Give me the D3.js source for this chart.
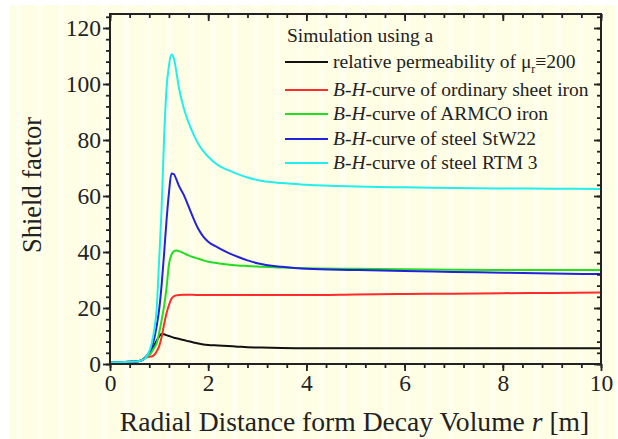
<!DOCTYPE html>
<html><head><meta charset="utf-8">
<script src="https://cdn.jsdelivr.net/npm/d3@7"></script>
<style>body{margin:0;background:#fff}svg{display:block}</style>
</head><body>
<svg id="c" width="618" height="439" style="font-family:'Liberation Serif'"></svg>
<script>
const rValues = [0,0.3,0.5,0.6,0.65,0.7,0.75,0.8,0.85,0.9,0.95,1.0,1.05,1.1,1.15,1.2,1.25,1.3,1.35,1.4,1.5,1.6,1.7,1.8,1.9,2.0,2.2,2.4,2.6,2.8,3.0,3.5,4,5,6,7,8,9,10];
const muConst  = [0.6,0.7,0.9,1.1,1.4,2.0,2.8,3.6,5.0,6.6,8.3,9.8,10.7,10.6,10.3,10.0,9.7,9.4,9.2,9.0,8.6,8.1,7.7,7.3,7.0,6.8,6.6,6.4,6.2,6.0,5.9,5.7,5.6,5.6,5.6,5.6,5.6,5.6,5.6];
const sheetIron= [0.6,0.7,0.9,1.1,1.4,1.9,2.4,2.6,2.7,3.2,4.5,6.3,9.5,14,18,21,23.2,24.2,24.5,24.6,24.7,24.7,24.7,24.6,24.6,24.6,24.6,24.6,24.6,24.6,24.6,24.6,24.6,24.8,25.0,25.1,25.3,25.4,25.5];
const armco    = [0.6,0.7,0.9,1.1,1.4,1.8,2.5,3.3,4.3,5.8,7.4,11,15.5,20.5,27,35.5,39,40.2,40.5,40.3,39.6,38.8,38.1,37.6,37.0,36.5,36.0,35.5,35.2,35.0,34.8,34.5,34.2,34.0,33.8,33.7,33.6,33.6,33.6];
const stw22    = [0.6,0.7,0.9,1.1,1.3,2.0,3.0,4.3,6.0,9.0,13.5,19.3,28,39,51,61,68,67.8,66,63.8,60.5,56.3,52,48.2,45.5,43.7,41.6,39.8,38.3,37.0,36.0,34.7,34.0,33.6,33.2,32.9,32.6,32.3,32.1];
const rtm3     = [0.6,0.7,0.9,1.1,1.4,1.8,2.8,4.5,7.4,12,19.5,37,55,80,98,106.5,110.5,109.2,104.5,99,91.5,86.3,82,78.6,76,74,71,69.3,67.8,66.6,65.7,64.6,64,63.4,63.1,62.9,62.7,62.6,62.5];

const xTicks = [0,2,4,6,8,10];
const yTicks = [0,20,40,60,80,100,120];

const series = [
  {vals: muConst,   color:"#111111"},
  {vals: sheetIron, color:"#ff2a2a"},
  {vals: armco,     color:"#22dd22"},
  {vals: stw22,     color:"#2222dd"},
  {vals: rtm3,      color:"#22eeee"}
];

const FF = "'Liberation Serif'";
const svg = d3.select("#c");
const L=110,R=601,T=14,B=364;
const x = d3.scaleLinear().domain([0,10]).range([L,R]);
const y = d3.scaleLinear().domain([0,125]).range([B,T]);

svg.append("rect").attr("x",10).attr("y",5).attr("width",605).attr("height",434).attr("fill","#fefee4");
for(let sx=16; sx<615; sx+=21.6){
  svg.append("rect").attr("x",sx).attr("y",5).attr("width",5).attr("height",434).attr("fill","#ffffef");
}

const g = svg.append("g");
const line = d3.line().x((d,i)=>x(rValues[i])).y(d=>y(d)).curve(d3.curveMonotoneX);
series.forEach(s=>{
  g.append("path").attr("d",line(s.vals)).attr("fill","none").attr("stroke",s.color).attr("stroke-width",2).attr("stroke-linejoin","round");
});

const ac="#222";
const xMinor = d3.range(0,10.001,0.4);
const yMinor = d3.range(0,125.001,4);
const bot = svg.append("g").attr("transform",`translate(0,${B})`).call(d3.axisBottom(x).tickValues(xMinor).tickSize(4).tickFormat(""));
const bot2 = svg.append("g").attr("transform",`translate(0,${B})`).call(d3.axisBottom(x).tickValues(xTicks).tickSize(7).tickPadding(3).tickFormat(d3.format("d")));
const left = svg.append("g").attr("transform",`translate(${L},0)`).call(d3.axisLeft(y).tickValues(yMinor).tickSize(4).tickFormat(""));
const left2 = svg.append("g").attr("transform",`translate(${L},0)`).call(d3.axisLeft(y).tickValues(yTicks).tickSize(7).tickPadding(2).tickFormat(d3.format("d")));
const top1 = svg.append("g").attr("transform",`translate(0,${T})`).call(d3.axisBottom(x).tickValues(xMinor).tickSize(4).tickFormat(""));
const top2 = svg.append("g").attr("transform",`translate(0,${T})`).call(d3.axisBottom(x).tickValues(xTicks).tickSize(7).tickFormat(""));
const right1 = svg.append("g").attr("transform",`translate(${R},0)`).call(d3.axisLeft(y).tickValues(yMinor).tickSize(4).tickFormat(""));
const right2 = svg.append("g").attr("transform",`translate(${R},0)`).call(d3.axisLeft(y).tickValues(yTicks).tickSize(7).tickFormat(""));
[bot,bot2,left,left2,top1,top2,right1,right2].forEach(a=>{
  a.attr("font-family",null).attr("font-size",null);
  a.select(".domain").remove();
  a.selectAll("line").attr("stroke",ac).attr("stroke-width",1.8);
  a.selectAll("text").style("font-family",FF).style("font-size","23.5px").attr("fill","#222");
});
svg.append("rect").attr("x",L).attr("y",T).attr("width",R-L).attr("height",B-T).attr("fill","none").attr("stroke",ac).attr("stroke-width",2);

svg.append("text").attr("x",(L+R)/2-1).attr("y",431).attr("text-anchor","middle")
  .style("font-family",FF).style("font-size","27.6px").attr("fill","#222")
  .html('Radial Distance form Decay Volume <tspan font-style="italic">r</tspan> [m]');
svg.append("text").attr("transform","translate(41,185) rotate(-90)").attr("text-anchor","middle")
  .style("font-family",FF).style("font-size","26.5px").attr("fill","#222")
  .text("Shield factor");

const lg = svg.append("g").attr("fill","#222");
lg.append("text").attr("x",287).attr("y",42).style("font-family",FF).style("font-size","19.5px").text("Simulation using a");
const labels = [
  'relative permeability of μ<tspan font-size="12" dy="5">r</tspan><tspan dy="-5">≡200</tspan>',
  '<tspan font-style="italic">B-H</tspan>-curve of ordinary sheet iron',
  '<tspan font-style="italic">B-H</tspan>-curve of ARMCO iron',
  '<tspan font-style="italic">B-H</tspan>-curve of steel StW22',
  '<tspan font-style="italic">B-H</tspan>-curve of steel RTM 3'
];
const rowY=[62,90,114,139,163];
series.forEach((s,i)=>{
  lg.append("line").attr("x1",285).attr("x2",328).attr("y1",rowY[i]).attr("y2",rowY[i]).attr("stroke",s.color).attr("stroke-width",2);
  lg.append("text").attr("x",333).attr("y",rowY[i]+6).style("font-family",FF).style("font-size","19.5px").html(labels[i]);
});
</script>
</body></html>
